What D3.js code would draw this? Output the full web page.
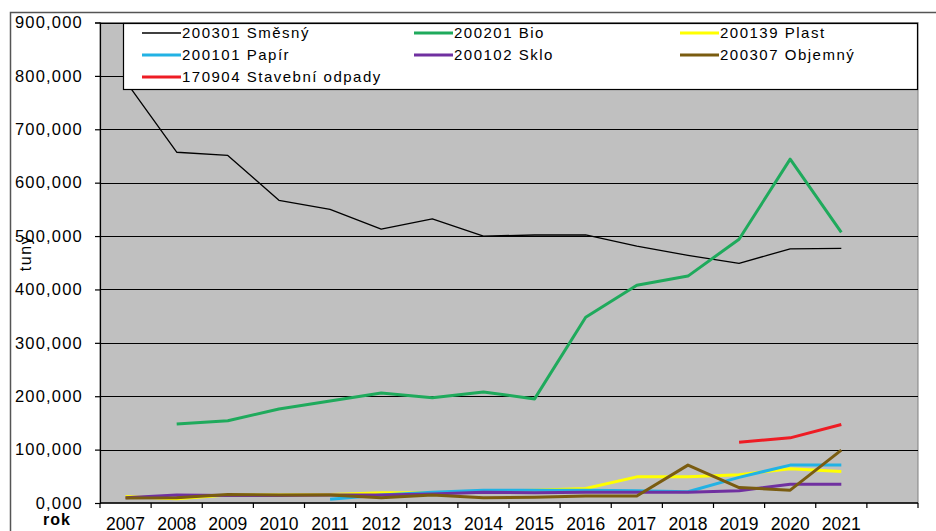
<!DOCTYPE html>
<html>
<head>
<meta charset="utf-8">
<script src="https://cdn.jsdelivr.net/npm/d3@7"></script>
<style>
  body { margin: 0; background: #fff; }
  svg { display: block; }
</style>
</head>
<body>
<svg id="chart" width="936" height="531"></svg>
<script>
// data in tonnes
var years = ["2007", "2008", "2009", "2010", "2011", "2012", "2013", "2014", "2015", "2016", "2017", "2018", "2019", "2020", "2021", ""];
var smesny = [790000, 657000, 651000, 567000, 550000, 513000, 532000, 500000, 502000, 502000, 481000, 464000, 449000, 476000, 477000];
var bio = [null, 148000, 154000, 176000, 191000, 206000, 197000, 208000, 195000, 348000, 408000, 425000, 494000, 644000, 507000];
var plast = [12000, 8000, 15000, 15000, 16000, 19000, 19000, 22000, 24000, 27000, 49000, 49000, 53000, 64000, 59000];
var papir = [null, null, null, null, 7000, 15000, 20000, 24000, 24000, 24000, 23000, 21000, 48000, 71000, 71000];
var sklo = [10000, 15000, 14000, 14000, 15000, 15000, 17000, 20000, 19000, 20000, 20000, 20000, 23000, 35000, 35000];
var objemny = [9500, 10000, 16000, 15000, 15000, 10000, 15000, 10000, 11000, 13000, 13000, 71000, 29000, 24000, 99000];
var stavebni = [null, null, null, null, null, null, null, null, null, null, null, null, 114000, 122000, 147000];
var yTicks = [0, 100000, 200000, 300000, 400000, 500000, 600000, 700000, 800000, 900000];
var yTickLabels = ["0,000", "100,000", "200,000", "300,000", "400,000", "500,000", "600,000", "700,000", "800,000", "900,000"];

var series = [
  { name: "200301 Směsný", values: smesny, color: "#000000", width: 1.3 },
  { name: "200201 Bio", values: bio, color: "#1faa5c", width: 3 },
  { name: "200139 Plast", values: plast, color: "#ffff00", width: 3 },
  { name: "200101 Papír", values: papir, color: "#22b2e4", width: 3 },
  { name: "200102 Sklo", values: sklo, color: "#7030a0", width: 3 },
  { name: "200307 Objemný", values: objemny, color: "#7a5c10", width: 3 },
  { name: "170904 Stavební odpady", values: stavebni, color: "#ee1c24", width: 3 }
];

var svg = d3.select("#chart");
var font = "'Liberation Sans', Arial, sans-serif";

var plotL = 100, plotR = 918, plotT = 22.5, plotB = 503;

var x = d3.scaleBand().domain(years.map(function(d, i) { return i; })).range([plotL, plotR]);
var y = d3.scaleLinear().domain([0, 900000]).range([plotB, plotT]);

// outer chart frame
svg.append("rect")
  .attr("x", 10.5).attr("y", 12.5)
  .attr("width", 960).attr("height", 560)
  .attr("fill", "none")
  .attr("stroke", "#555")
  .attr("stroke-width", 1.5);

// plot area
svg.append("rect")
  .attr("x", plotL).attr("y", plotT)
  .attr("width", plotR - plotL).attr("height", plotB - plotT)
  .attr("fill", "#c0c0c0")
  .attr("stroke", "#808080");

// grid
svg.append("g")
  .selectAll("line")
  .data(yTicks.slice(1))
  .enter()
  .append("line")
  .attr("x1", plotL).attr("x2", plotR)
  .attr("y1", function(d) { return Math.round(y(d)) + 0.5; })
  .attr("y2", function(d) { return Math.round(y(d)) + 0.5; })
  .attr("stroke", "#000")
  .attr("stroke-width", 1.2);

// y axis
var yAxis = d3.axisLeft(y)
  .tickValues(yTicks)
  .tickSize(5)
  .tickFormat(function(d, i) { return yTickLabels[i]; });
var gy = svg.append("g").attr("transform", "translate(" + plotL + ",0)").call(yAxis);
gy.select(".domain").attr("stroke", "#000").attr("stroke-width", 1.2);
gy.selectAll(".tick line").attr("stroke", "#000").attr("stroke-width", 1.2);
gy.selectAll(".tick text")
  .attr("x", -17)
  .attr("fill", "#000")
  .style("font-family", font)
  .style("font-size", "16.5px")
  .style("letter-spacing", "1.2px");

// x axis, ticks on band boundaries
var bounds = years.map(function(d, i) { return x(i); }).concat([plotR]);
var gx = svg.append("g");
gx.append("line")
  .attr("x1", plotL).attr("x2", plotR)
  .attr("y1", plotB).attr("y2", plotB)
  .attr("stroke", "#000").attr("stroke-width", 1.5);
gx.selectAll(".xt")
  .data(bounds)
  .enter()
  .append("line")
  .attr("class", "xt")
  .attr("x1", function(d) { return d; }).attr("x2", function(d) { return d; })
  .attr("y1", plotB).attr("y2", plotB + 5)
  .attr("stroke", "#000").attr("stroke-width", 1.2);
gx.selectAll("text")
  .data(years)
  .enter()
  .append("text")
  .attr("x", function(d, i) { return x(i) + x.bandwidth() / 2; })
  .attr("y", 530)
  .attr("text-anchor", "middle")
  .style("font-family", font)
  .style("font-size", "17.5px")
  .text(function(d) { return d; });

// lines
var line = d3.line()
  .defined(function(d) { return d != null; })
  .x(function(d, i) { return x(i) + x.bandwidth() / 2; })
  .y(function(d) { return y(d); });

svg.append("g")
  .selectAll("path")
  .data(series)
  .enter()
  .append("path")
  .attr("d", function(d) { return line(d.values); })
  .attr("fill", "none")
  .attr("stroke", function(d) { return d.color; })
  .attr("stroke-width", function(d) { return d.width; })
  .attr("stroke-linejoin", "round");

// legend
var lg = svg.append("g");
lg.append("rect")
  .attr("x", 123.5).attr("y", 23.5)
  .attr("width", 794).attr("height", 66)
  .attr("fill", "#fff")
  .attr("stroke", "#000")
  .attr("stroke-width", 1.2);
var colX = [142, 414, 680];
var rowY = [33, 55, 77];
var items = lg.selectAll(".item")
  .data(series)
  .enter()
  .append("g")
  .attr("class", "item")
  .attr("transform", function(d, i) {
    return "translate(" + colX[i % 3] + "," + rowY[Math.floor(i / 3)] + ")";
  });
items.append("line")
  .attr("x1", 0).attr("x2", 39)
  .attr("stroke", function(d) { return d.color; })
  .attr("stroke-width", function(d) { return d.width === 3 ? 3 : 1.3; });
items.append("text")
  .attr("x", 40)
  .attr("dy", "0.36em")
  .style("font-family", font)
  .style("font-size", "15px")
  .style("letter-spacing", "1.5px")
  .text(function(d) { return d.name; });

// axis titles
svg.append("text")
  .attr("transform", "translate(31,253) rotate(-90)")
  .attr("text-anchor", "middle")
  .style("font-family", font)
  .style("font-size", "16px")
  .style("letter-spacing", "1.5px")
  .text("tuny");
svg.append("text")
  .attr("x", 43).attr("y", 525)
  .style("font-family", font)
  .style("font-size", "16px")
  .style("font-weight", "bold")
  .style("letter-spacing", "1px")
  .text("rok");
</script>
</body>
</html>
